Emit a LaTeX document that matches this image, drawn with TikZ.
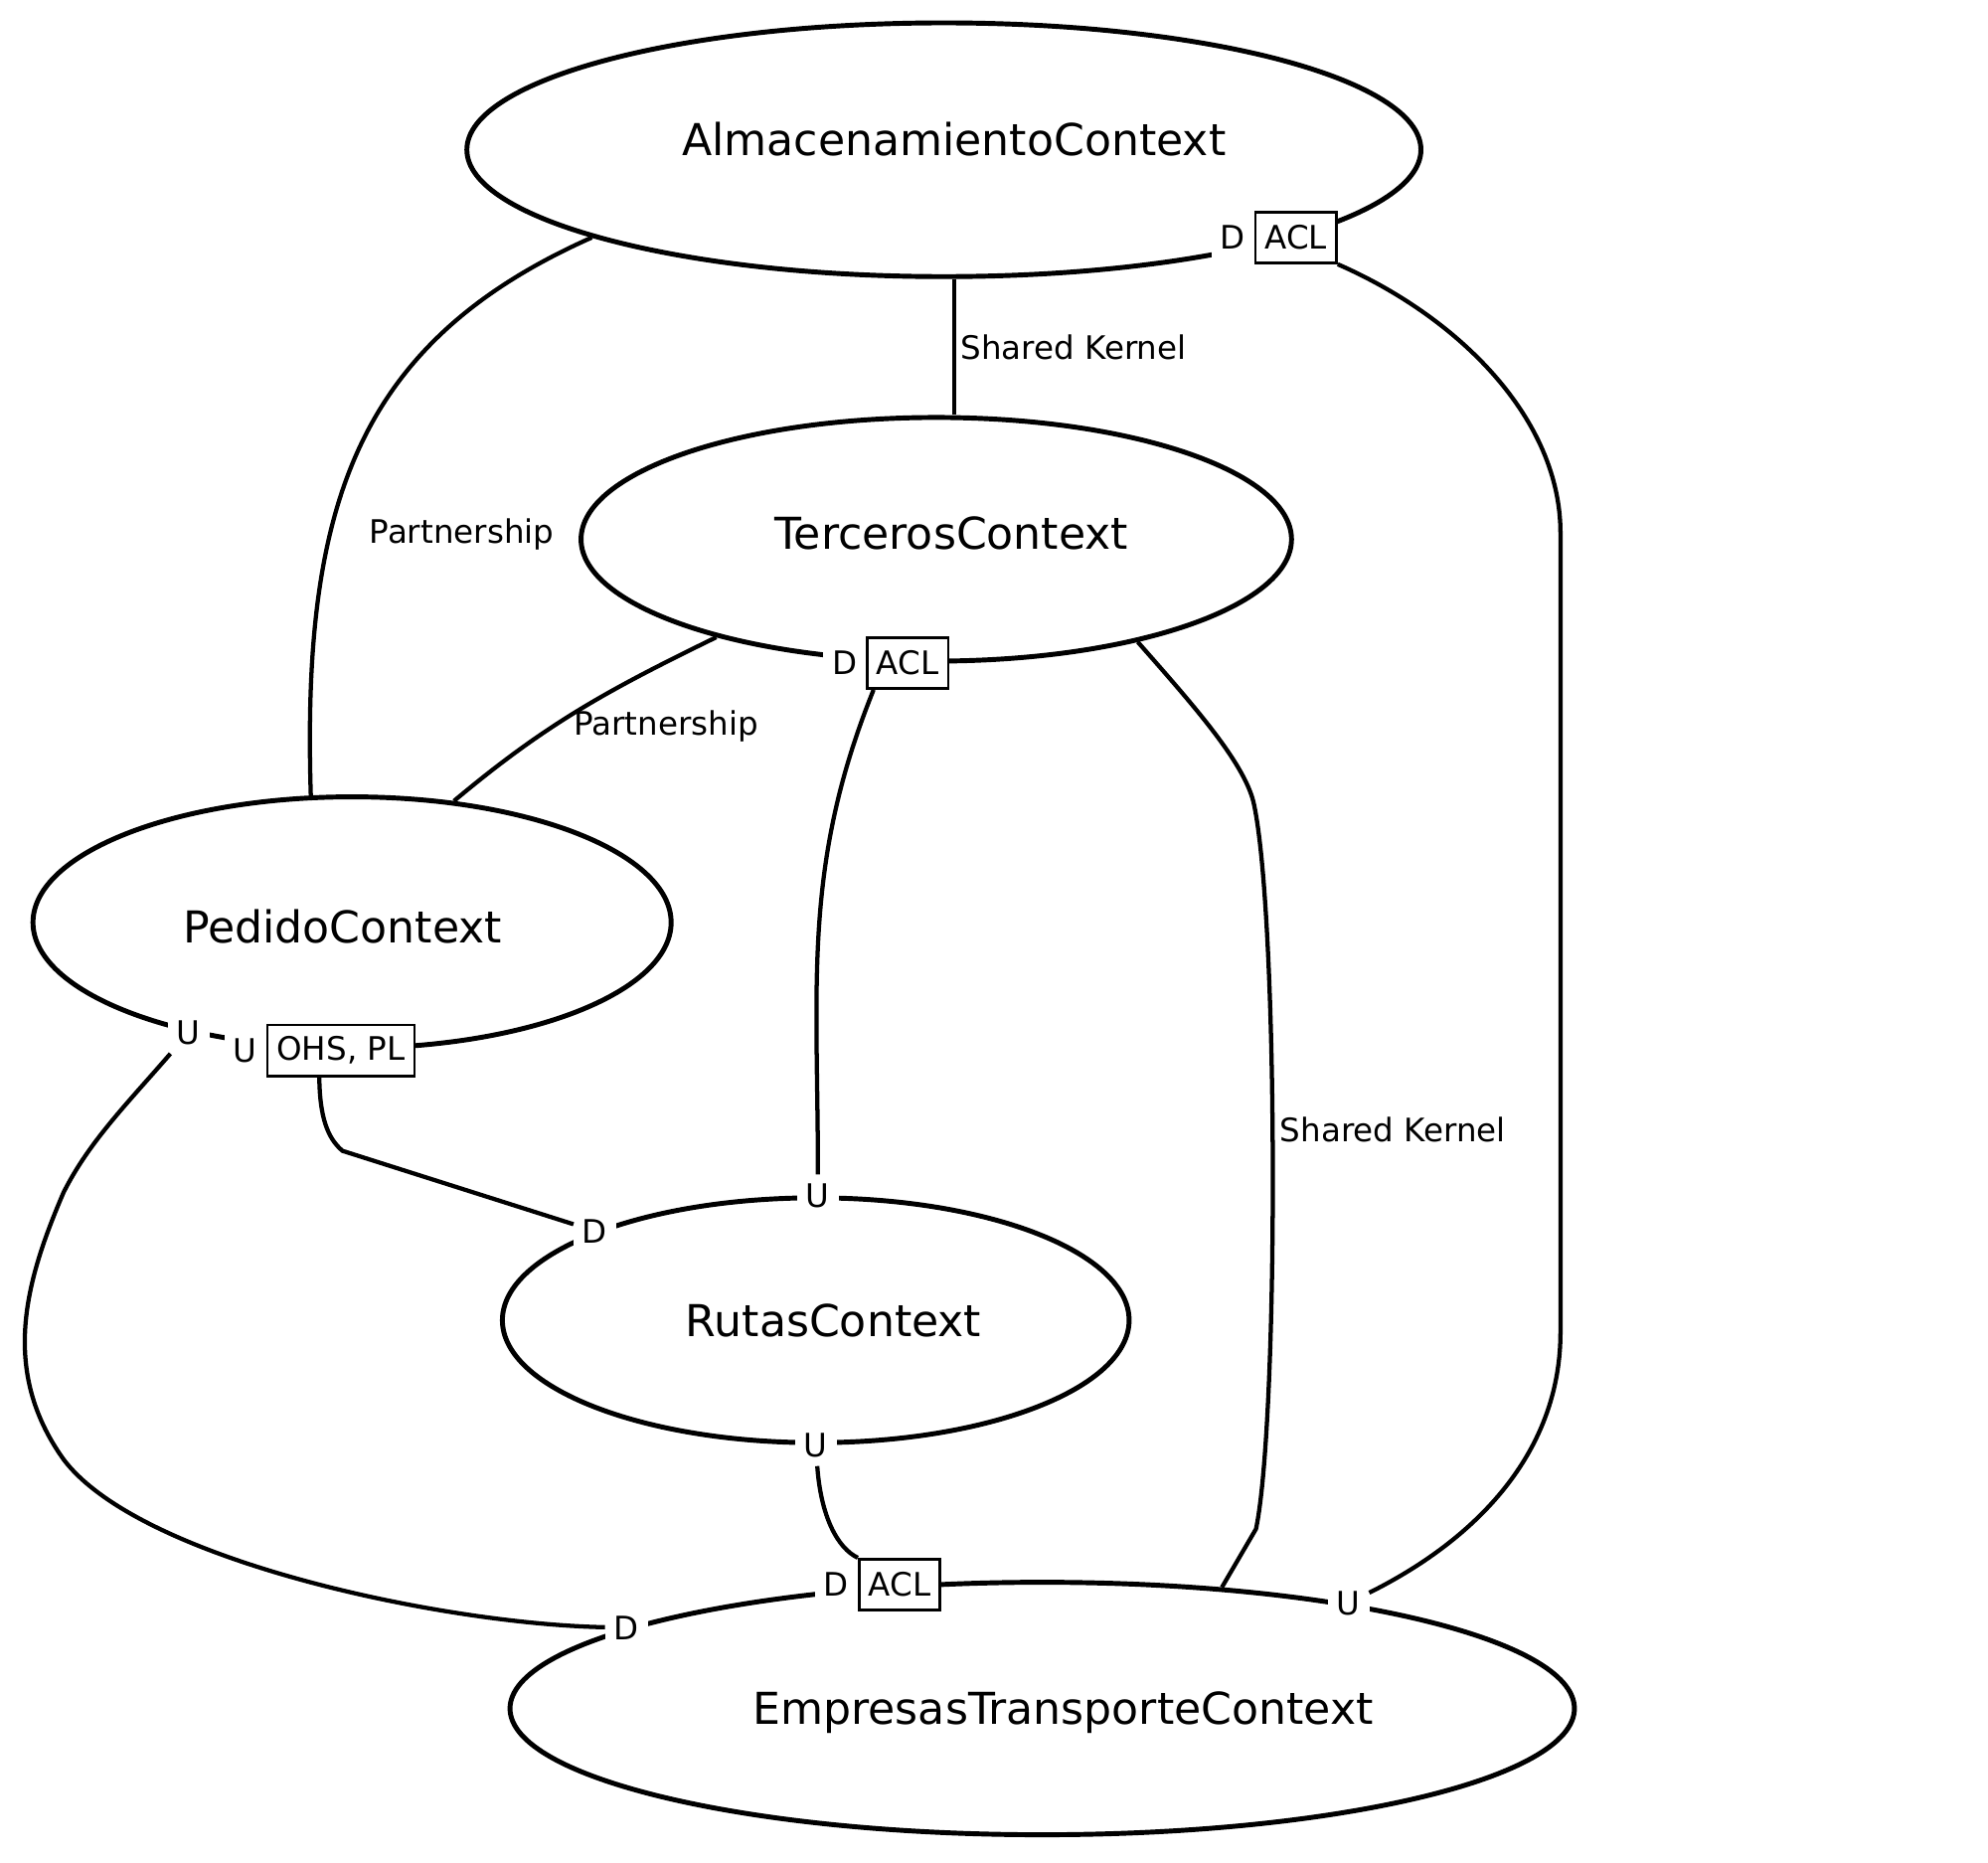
\documentclass[tikz,border=0pt]{standalone}
\usepackage{fontspec}
\setmainfont{DejaVu Sans}
\usetikzlibrary{positioning,shapes.geometric}

\begin{document}
\begin{tikzpicture}[
        ctx/.style={draw, ellipse, line width=1.1pt, inner sep=0pt},
        ctxname/.style={font=\fontsize{9.85}{12}\selectfont},
        rel/.style={line width=0.95pt},
        ud/.style={fill=white, inner sep=2pt, outer sep=0pt, font=\fontsize{7.25}{9}\selectfont},
        pat/.style={draw, fill=white, line width=0.6pt, inner sep=2.1pt, minimum height=0.4cm, font=\fontsize{7.25}{9}\selectfont},
        lbl/.style={inner sep=0pt, font=\fontsize{7.25}{9}\selectfont}]
        \useasboundingbox (0,0) rectangle (15.67,-14.68);

        \node[ctx, minimum width=7.52cm, minimum height=2cm, label={[ctxname, xshift=0.08cm, yshift=0.08cm]center:AlmacenamientoContext}] (alm) at (7.44,-1.18) {};
        \node[ctx, minimum width=5.6cm, minimum height=1.92cm, label={[ctxname, xshift=0.12cm, yshift=0.05cm]center:TercerosContext}] (terc) at (7.38,-4.25) {};
        \node[ctx, minimum width=5.03cm, minimum height=1.98cm, label={[ctxname, xshift=-0.075cm, yshift=-0.03cm]center:PedidoContext}] (ped) at (2.775,-7.27) {};
        \node[ctx, minimum width=4.94cm, minimum height=1.93cm, label={[ctxname, xshift=0.14cm]center:RutasContext}] (rut) at (6.43,-10.405) {};
        \node[ctx, minimum width=8.39cm, minimum height=1.99cm, label={[ctxname, xshift=0.165cm, yshift=-0.035cm]center:EmpresasTransporteContext}] (emp) at (8.215,-13.465) {};

        \node[pat] (almacl) at (alm.346.5) {ACL};
        \node[ud, left=0pt of almacl] (almd) {D};
        \node[pat] (tercacl) at (terc.257) {ACL};
        \node[ud, left=0pt of tercacl] (tercd) {D};
        \node[ud] (pedu) at (ped.214.6) {U};
        \node[pat] (pedohs) at (ped.265) {OHS, PL};
        \node[ud, left=0pt of pedohs] (pedu2) {U};
        \node[ud] (rutu) at (rut.89.5) {U};
        \node[ud] (rutd) at (rut.158.5) {D};
        \node[ud] (rutu2) at (rut.270) {U};
        \node[ud] (empd) at (emp.169.7) {D};
        \node[pat] (empacl) at (emp.139.5) {ACL};
        \node[ud, left=0pt of empacl] (empd2) {D};
        \node[ud] (empu) at (emp.19.5) {U};

        \draw[rel] (alm.194) .. controls (2.8,-2.7) and (2.38,-4.0) .. (ped.108);
        \node[lbl] (parta) at (3.64,-4.21) {Partnership};
        \draw[rel] (alm.south) ++(0.08,0) coordinate (skt) -- (skt |- terc.north) node[lbl, midway, right=1pt] (ska) {Shared Kernel};
        \draw[rel] (almacl.south east) .. controls (11.5,-2.5) and (12.3,-3.3) .. (12.3,-4.2) -- (12.3,-10.5) .. controls (12.3,-11.4) and (11.7,-12.1) .. (empu);
        \draw[rel] ([xshift=0.06cm]tercacl.south west) to[out=-112, in=90] (rutu);
        \draw[rel] (terc.204) to[out=206, in=40] (ped.50);
        \node[lbl] (partb) at (5.25,-5.72) {Partnership};
        \draw[rel] (terc.333) .. controls (9.4,-5.55) and (9.8,-6.0) .. (9.88,-6.32) .. controls (10.08,-7.2) and (10.08,-11.2) .. (9.9,-12.05) -- (emp.34.6);
        \node[lbl] (skb) at (10.98,-8.90) {Shared Kernel};
        \draw[rel] ([xshift=-0.17cm]pedohs.south) .. controls (2.52,-8.8) and (2.58,-8.97) .. (2.7,-9.07) -- (rutd);
        \draw[rel] (pedu) .. controls (1.0,-8.7) and (0.7,-9.0) .. (0.5,-9.4) .. controls (0.2,-10.1) and (0,-10.8) .. (0.5,-11.5) .. controls (1.1,-12.3) and (3.5,-12.8) .. (empd);
        \draw[rel] (rutu2) .. controls (6.47,-11.95) and (6.6,-12.2) .. (empacl.north west);
    \end{tikzpicture}
\end{document}
